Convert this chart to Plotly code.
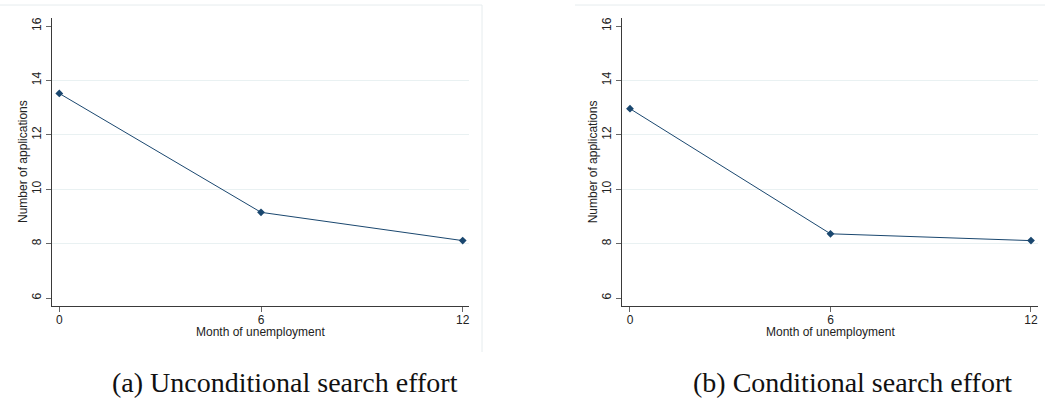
import plotly.graph_objects as go

# Average number of job applications by month of unemployment
months = [0, 6, 12]
unconditional = [13.52, 9.15, 8.11]
conditional = [12.96, 8.36, 8.11]

x_ticks = [0, 6, 12]
y_ticks = [6, 8, 10, 12, 14, 16]
grid_values = [8, 10, 12, 14]
captions = ["(a) Unconditional search effort", "(b) Conditional search effort"]

W, H = 1045, 403
NAVY = "#1a476f"
AXIS = "#3a3a3a"
GRID = "#e9f1f2"
FRAME = "#e6ecee"
SANS = "Liberation Sans, Arial, sans-serif"

def px_x(v):
    return v / W

def px_y(v):
    return 1 - v / H

fig = go.Figure()

panels = [
    dict(data=unconditional, xd=(52, 469), xr=(-0.217, 12.187), suffix=""),
    dict(data=conditional, xd=(622.3, 1038), xr=(-0.23, 12.21), suffix="2"),
]

y_dom = (px_y(306), px_y(18))
y_rng = [5.706, 16.294]

for i, p in enumerate(panels):
    s = p["suffix"]
    fig.add_trace(go.Scatter(
        x=months, y=p["data"], mode="lines+markers",
        line=dict(color=NAVY, width=1),
        marker=dict(symbol="diamond", size=6, color=NAVY),
        xaxis="x" + s, yaxis="y" + s, showlegend=False,
    ))
    axis_common = dict(
        showline=True, linecolor=AXIS, linewidth=1.2,
        ticks="outside", ticklen=5, tickwidth=1, tickcolor="#666666",
        tickfont=dict(family=SANS, size=12, color="#222222"),
        zeroline=False, fixedrange=True,
    )
    fig.update_layout(**{
        "xaxis" + s: dict(
            domain=[px_x(p["xd"][0]), px_x(p["xd"][1])],
            range=list(p["xr"]), tickvals=x_ticks, showgrid=False,
            anchor="y" + s, ticklabelstandoff=-3, **axis_common,
        ),
        "yaxis" + s: dict(
            domain=list(y_dom), range=y_rng, tickvals=y_ticks,
            tickangle=-90, showgrid=False, anchor="x" + s,
            minor=dict(tickvals=grid_values, showgrid=True,
                       gridcolor=GRID, gridwidth=1, ticks=""),
            **axis_common,
        ),
    })
    # axis titles
    fig.add_annotation(
        text="Month of unemployment", xref="paper", yref="paper",
        x=px_x((p["xd"][0] + p["xd"][1]) / 2), y=px_y(332), showarrow=False,
        font=dict(family=SANS, size=12, color="#222222"),
        xanchor="center", yanchor="middle",
    )
    fig.add_annotation(
        text="Number of applications", xref="paper", yref="paper",
        x=px_x(p["xd"][0] - 29), y=px_y(162), showarrow=False, textangle=-90,
        font=dict(family=SANS, size=12, color="#222222"),
        xanchor="center", yanchor="middle",
    )

# captions below each panel
for cx, text in zip([285, 852], captions):
    fig.add_annotation(
        text=text, xref="paper", yref="paper", x=px_x(cx), y=px_y(382),
        showarrow=False, xanchor="center", yanchor="middle",
        font=dict(family="Liberation Serif, Times New Roman, serif", size=28, color="#111111"),
    )

# faint outer graph-region borders
frame_lines = [
    (0, 5, 482, 5),
    (482, 5, 482, 352),
    (575, 5, 1045, 5),
]
for x0, y0, x1, y1 in frame_lines:
    fig.add_shape(type="line", xref="paper", yref="paper",
                  x0=px_x(x0), y0=px_y(y0), x1=px_x(x1), y1=px_y(y1),
                  line=dict(color=FRAME, width=1))

fig.update_layout(
    width=W, height=H,
    margin=dict(l=0, r=0, t=0, b=0),
    paper_bgcolor="white", plot_bgcolor="white",
)

fig.write_html("out.html")
